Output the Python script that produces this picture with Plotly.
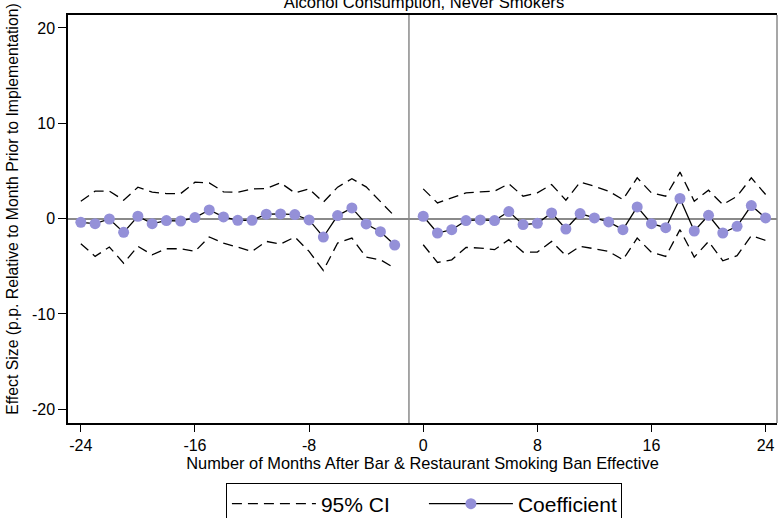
import plotly.graph_objects as go

# Event-study estimates: months relative to the smoking ban (month -1 is the omitted reference)
months_pre = [-24, -23, -22, -21, -20, -19, -18, -17, -16, -15, -14, -13,
              -12, -11, -10, -9, -8, -7, -6, -5, -4, -3, -2]
months_post = [0, 1, 2, 3, 4, 5, 6, 7, 8, 9, 10, 11, 12,
               13, 14, 15, 16, 17, 18, 19, 20, 21, 22, 23, 24]

coef_pre = [-0.39, -0.53, -0.04, -1.44, 0.25, -0.53, -0.21, -0.25, 0.11, 0.91, 0.18, -0.18,
            -0.18, 0.46, 0.49, 0.42, -0.14, -1.93, 0.32, 1.12, -0.56, -1.37, -2.77]
upper_pre = [1.82, 2.88, 2.88, 1.93, 3.30, 2.77, 2.63, 2.63, 3.82, 3.75, 2.81, 2.77,
             3.12, 3.16, 3.75, 2.70, 3.12, 1.72, 3.30, 4.18, 3.33, 1.82, 0.25]
lower_pre = [-2.63, -3.96, -2.98, -4.67, -2.91, -3.79, -3.16, -3.16, -3.44, -1.93, -2.56, -3.02,
             -3.44, -2.39, -2.67, -1.93, -3.44, -5.44, -2.56, -2.04, -4.04, -4.32, -5.19]

coef_post = [0.25, -1.51, -1.16, -0.21, -0.14, -0.21, 0.74, -0.63, -0.49, 0.60, -1.09, 0.53, 0.07,
             -0.35, -1.16, 1.23, -0.53, -0.95, 2.11, -1.30, 0.35, -1.51, -0.81, 1.37, 0.07]
upper_post = [3.12, 1.65, 2.18, 2.70, 2.81, 2.88, 3.65, 2.35, 2.70, 3.58, 1.93, 3.82, 3.40,
              2.88, 2.00, 4.28, 2.70, 2.35, 4.88, 1.82, 2.98, 1.47, 2.35, 4.28, 2.53]
lower_post = [-2.74, -4.60, -4.32, -3.02, -3.09, -3.26, -2.21, -3.51, -3.51, -2.39, -3.89, -2.91, -3.16,
              -3.44, -4.32, -2.04, -3.54, -3.96, -1.16, -4.04, -2.39, -4.42, -3.89, -1.79, -2.28]

x_ticks = [-24, -16, -8, 0, 8, 16, 24]
x_tick_labels = ["-24", "-16", "-8", "0", "8", "16", "24"]
y_ticks = [-20, -10, 0, 10, 20]
y_tick_labels = ["-20", "-10", "0", "10", "20"]
REF_MONTH = -1

# Join both periods, leaving a gap at the reference month so lines break there
months = months_pre + [REF_MONTH] + months_post
coef = coef_pre + [None] + coef_post
upper = upper_pre + [None] + upper_post
lower = lower_pre + [None] + lower_post

FONT = "Liberation Sans, Arial, sans-serif"
MARKER_COLOR = "#9490d8"
GRID_GRAY = "#8a8a8a"
CI_DASH = "10px,6px"

fig = go.Figure()

fig.add_trace(go.Scatter(
    x=months, y=upper, mode="lines", name="95% CI", legendgroup="ci",
    line=dict(color="black", width=1.3, dash=CI_DASH), connectgaps=False,
))
fig.add_trace(go.Scatter(
    x=months, y=lower, mode="lines", name="95% CI", legendgroup="ci", showlegend=False,
    line=dict(color="black", width=1.3, dash=CI_DASH), connectgaps=False,
))
fig.add_trace(go.Scatter(
    x=months, y=coef, mode="lines+markers", name="Coefficient",
    line=dict(color="black", width=1.3), connectgaps=False,
    marker=dict(color=MARKER_COLOR, size=11, line=dict(width=0)),
))

# Reference month marker and right border
fig.add_shape(type="line", xref="x", yref="paper", x0=REF_MONTH, x1=REF_MONTH, y0=0, y1=1,
              line=dict(color=GRID_GRAY, width=1.5), layer="below")
fig.add_shape(type="line", xref="paper", yref="paper", x0=1, x1=1, y0=0, y1=1,
              line=dict(color=GRID_GRAY, width=1.5))

# Vertical axis title, placed as a rotated annotation
fig.add_annotation(
    text="Effect Size (p.p. Relative to Month Prior to Implementation)",
    xref="paper", yref="paper", x=-0.0776, y=0.525, xanchor="center", yanchor="middle",
    textangle=-90, showarrow=False, font=dict(family=FONT, size=15.8, color="black"),
)

fig.update_layout(
    width=778, height=518,
    margin=dict(l=68, r=1, t=15, b=95, autoexpand=False),
    paper_bgcolor="white", plot_bgcolor="white",
    font=dict(family=FONT, size=16, color="black"),
    title=dict(text="Alcohol Consumption, Never Smokers", x=424 / 778, xanchor="center",
               y=1 - 2 / 518, yanchor="middle", yref="container",
               font=dict(family=FONT, size=16.6, color="black")),
    xaxis=dict(
        range=[-24.9, 24.8], tickmode="array", tickvals=x_ticks, ticktext=x_tick_labels,
        ticks="outside", ticklen=7, tickwidth=1, tickcolor="black",
        showgrid=False, zeroline=False,
        showline=True, linecolor="black", linewidth=1.5, mirror=True,
        title=dict(text="Number of Months After Bar & Restaurant Smoking Ban Effective",
                   standoff=0, font=dict(size=16.4)),
        tickfont=dict(size=16),
    ),
    yaxis=dict(
        range=[-21.44, 21.36], tickmode="array", tickvals=y_ticks, ticktext=y_tick_labels,
        ticks="outside", ticklen=8, tickwidth=1, tickcolor="black",
        showgrid=False, zeroline=True, zerolinecolor=GRID_GRAY, zerolinewidth=1.5,
        showline=True, linecolor="black", linewidth=1.5,
        tickfont=dict(size=16),
    ),
    legend=dict(
        orientation="h", x=0.502, xanchor="center", y=-0.146, yanchor="top",
        bordercolor="black", borderwidth=1, font=dict(size=21),
        itemwidth=84, traceorder="normal", entrywidth=98,
    ),
)

fig.write_html("out.html")
